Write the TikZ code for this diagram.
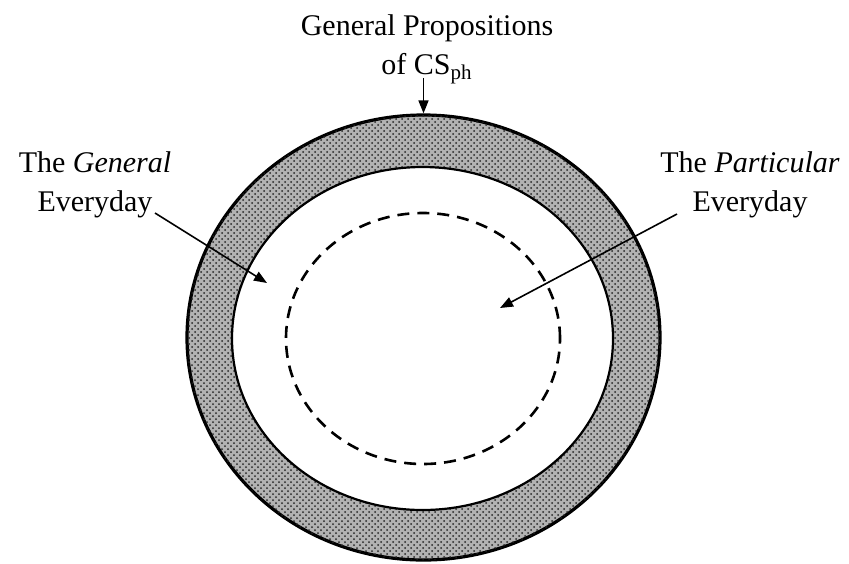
\documentclass[tikz,border=0pt]{standalone}
\usepackage{fontspec}
\setmainfont{Liberation Serif}
\usepackage{tikz}
\usetikzlibrary{arrows.meta,shapes.geometric,patterns}

\begin{document}
\begin{tikzpicture}[x=0.5pt, y=-0.5pt, font=\fontsize{15}{19.5}\selectfont,
  ptr/.style={-{Triangle[length=6.5pt,width=5pt]}, line width=0.8pt}]
  \useasboundingbox (0,0) rectangle (849,563);
  \node[ellipse,draw,line width=1.6pt,inner sep=0,minimum width=236.5pt,minimum height=222.5pt,fill=gray!60,postaction={pattern=crosshatch dots,pattern color=black!85}] (outer) at (423.5,337.5) {};
  \node[ellipse,draw,line width=1.1pt,inner sep=0,minimum width=190.5pt,minimum height=171.5pt,fill=white] (inner) at (422.5,338.5) {};
  \node[ellipse,draw,line width=1.3pt,dash pattern=on 6pt off 4pt,inner sep=0,minimum width=137pt,minimum height=125.5pt] (core) at (423,338.5) {};
  \node[align=center,inner sep=0] (props) at (427,49) {General Propositions\\of CS\textsubscript{ph}};
  \node[align=center,inner sep=0] (general) at (95,185) {The \textit{General}\\Everyday};
  \node[align=center,inner sep=0] (particular) at (750,185) {The \textit{Particular}\\Everyday};
  \coordinate (gfrom) at (155,213);
  \coordinate (gtip) at (267,283);
  \coordinate (pfrom) at (677,214);
  \coordinate (ptip) at (500,308);
  \draw[ptr] ([yshift=3pt]props.south -| outer.north) -- (outer.north);
  \draw[ptr] (gfrom) -- (gtip);
  \draw[ptr] (pfrom) -- (ptip);
\end{tikzpicture}
\end{document}
